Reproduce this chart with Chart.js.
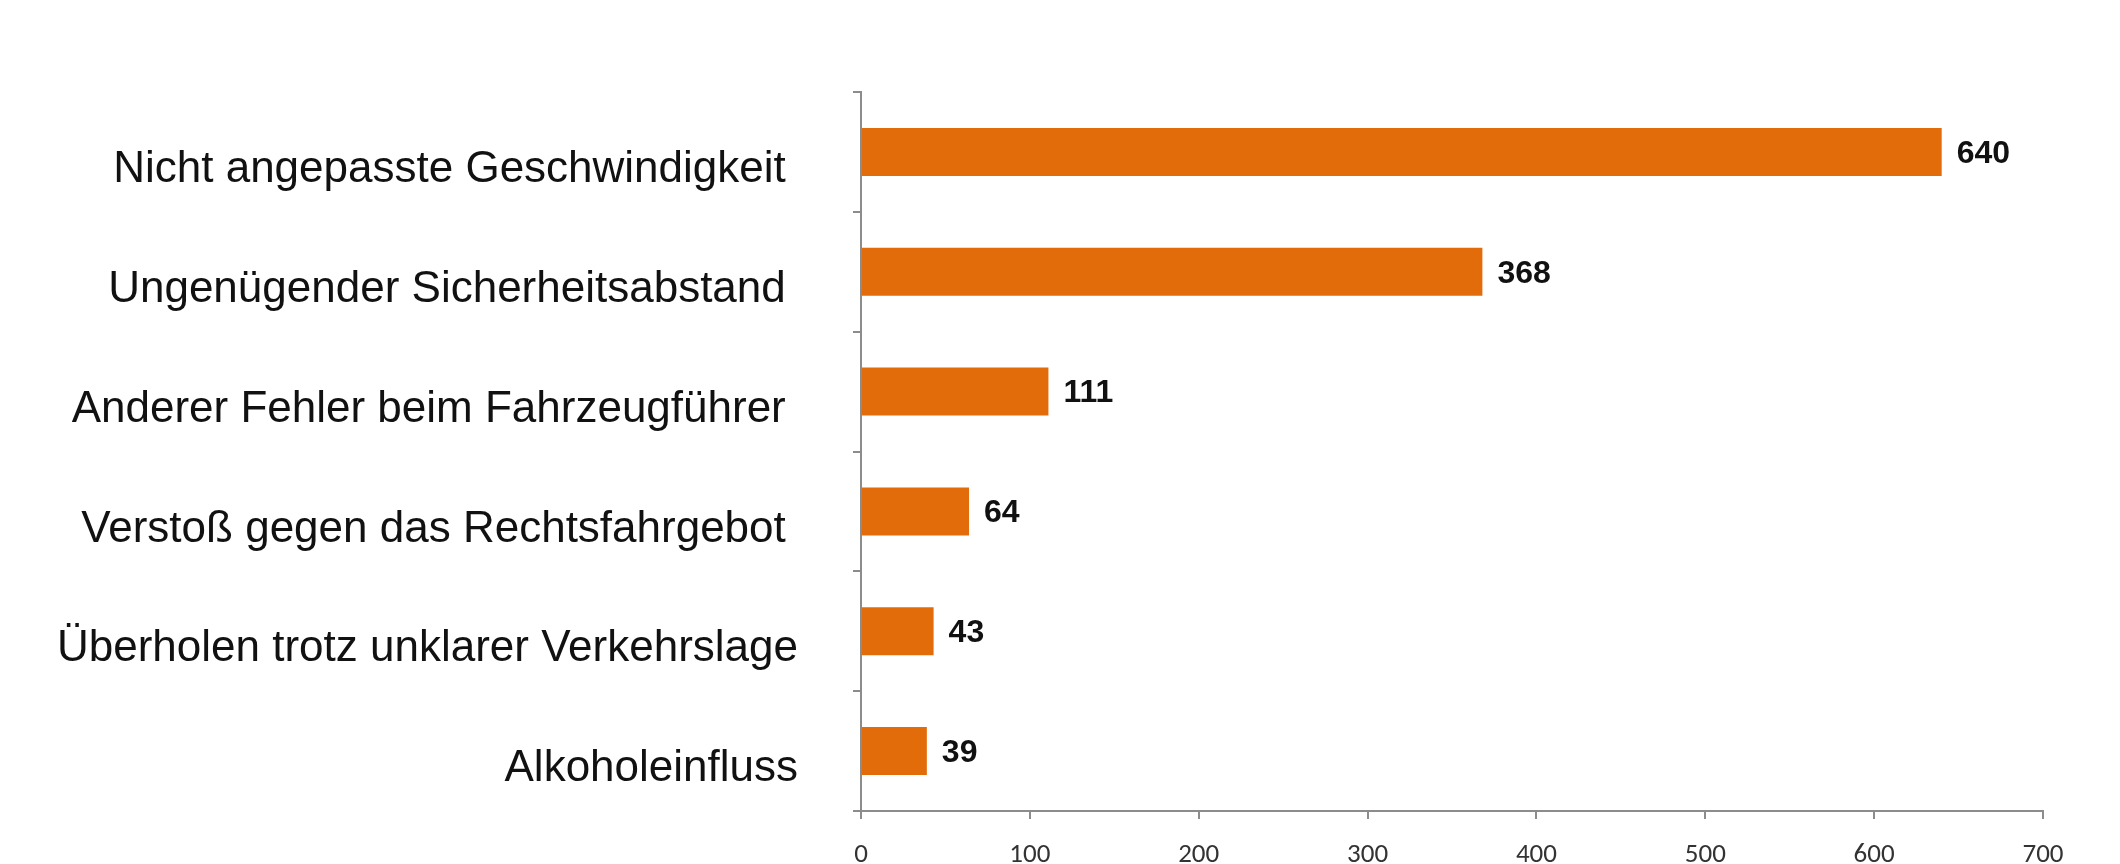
<!DOCTYPE html>
<html>
<head>
<meta charset="utf-8">
<script src="https://cdn.jsdelivr.net/npm/chart.js@4/dist/chart.umd.min.js"></script>
<style>
  body { margin: 0; background: #fff; }
  #wrap { width: 2120px; height: 864px; }
</style>
</head>
<body>
<div id="wrap"><canvas id="chart" width="2120" height="864"></canvas></div>
<script>
// Unfallursachen (trailing spaces kept as in the original labels)
const categories = [
    'Nicht angepasste Geschwindigkeit ',
    'Ungenügender Sicherheitsabstand ',
    'Anderer Fehler beim Fahrzeugführer ',
    'Verstoß gegen das Rechtsfahrgebot ',
    'Überholen trotz unklarer Verkehrslage',
    'Alkoholeinfluss'
];
const values = [640, 368, 111, 64, 43, 39];
const xTicks = [0, 100, 200, 300, 400, 500, 600, 700];

const axisGray = '#8c8c8c';

// value labels right of each bar
const valueLabels = {
    id: 'valueLabels',
    afterDatasetsDraw(chart) {
        const ctx = chart.ctx;
        const meta = chart.getDatasetMeta(0);
        ctx.save();
        ctx.font = 'bold 32px "Liberation Sans", Arial, sans-serif';
        ctx.fillStyle = '#111';
        ctx.textAlign = 'left';
        ctx.textBaseline = 'middle';
        meta.data.forEach((bar, i) => {
            ctx.fillText(String(values[i]), bar.x + 15, bar.y + 2);
        });
        ctx.restore();
    }
};

document.addEventListener('DOMContentLoaded', () => {
    const ctx = document.getElementById('chart').getContext('2d');
    new Chart(ctx, {
        type: 'bar',
        data: {
            labels: categories,
            datasets: [{
                data: values,
                backgroundColor: '#E36C0A',
                barPercentage: 0.4,
                categoryPercentage: 1.0
            }]
        },
        options: {
            indexAxis: 'y',
            responsive: false,
            animation: false,
            layout: { padding: { top: 92, right: 77, left: 0, bottom: 0 } },
            plugins: {
                legend: { display: false },
                tooltip: { enabled: false }
            },
            scales: {
                x: {
                    min: 0,
                    max: 700,
                    afterBuildTicks: scale => {
                        scale.ticks = xTicks.map(v => ({ value: v }));
                    },
                    afterFit: scale => {
                        scale.height = 53;
                        scale.paddingLeft = 0;
                        scale.paddingRight = 0;
                    },
                    border: { display: true, color: axisGray, width: 2 },
                    grid: { drawOnChartArea: false, drawTicks: true, tickLength: 8, color: axisGray, lineWidth: 2 },
                    ticks: {
                        padding: 20,
                        color: '#333',
                        font: { family: 'Carlito, "Liberation Sans", sans-serif', size: 27 }
                    }
                },
                y: {
                    afterFit: scale => {
                        scale.width = 861;
                        scale.paddingTop = 0;
                        scale.paddingBottom = 0;
                    },
                    border: { display: true, color: axisGray, width: 2 },
                    grid: { offset: true, drawOnChartArea: false, drawTicks: true, tickLength: 8, color: axisGray, lineWidth: 2 },
                    ticks: {
                        padding: 55,
                        labelOffset: 18,
                        color: '#111',
                        font: { family: '"Liberation Sans", Arial, sans-serif', size: 44 }
                    }
                }
            }
        },
        plugins: [valueLabels]
    });
});
</script>
</body>
</html>
